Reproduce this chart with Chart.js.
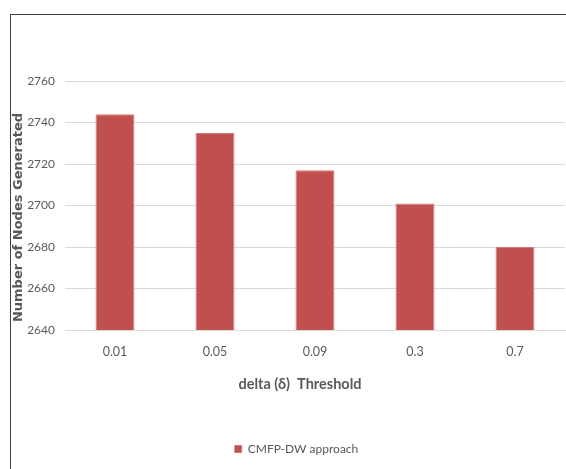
<!DOCTYPE html>
<html>
<head>
<meta charset="utf-8">
<script src="https://cdn.jsdelivr.net/npm/chart.js@4.4.1/dist/chart.umd.min.js"></script>
<style>
  html, body { margin: 0; padding: 0; background: #ffffff; }
  #wrap { position: relative; width: 566px; height: 469px; overflow: hidden; }
  #frame { position: absolute; left: 10px; top: 14px; width: 600px; height: 500px;
           border-left: 1px solid #404040; border-top: 1px solid #404040; }
  canvas { position: absolute; left: 0; top: 0; }
</style>
</head>
<body>
<div id="wrap">
  <div id="frame"></div>
  <canvas id="chart" width="566" height="469"></canvas>
</div>
<script>
// Threshold values on the x axis and the node counts for each
const thresholds = ['0.01', '0.05', '0.09', '0.3', '0.7'];
const nodesGenerated = [2744, 2735, 2717, 2701, 2680];
const seriesName = 'CMFP-DW approach';
const yTicks = [2640, 2660, 2680, 2700, 2720, 2740, 2760];
const xTitle = 'delta (\u03B4)  Threshold';
const yTitle = 'Number of Nodes Generated';

const fontFamily = 'Lato, "DejaVu Sans Condensed", sans-serif';
const textColor = '#595959';

// Axis titles drawn relative to the plot area (under the tick labels)
const axisTitles = {
  id: 'axisTitles',
  beforeDatasetsDraw(chart) {
    const { ctx, chartArea } = chart;
    ctx.save();
    ctx.fillStyle = textColor;
    ctx.textAlign = 'center';
    ctx.textBaseline = 'middle';
    ctx.font = 'bold 16px ' + fontFamily;
    ctx.fillText(xTitle, (chartArea.left + chartArea.right) / 2 - 15, chartArea.bottom + 54, 123);
    ctx.translate(19, (chartArea.top + chartArea.bottom) / 2 + 12);
    ctx.rotate(-Math.PI / 2);
    ctx.font = 'bold 13px "DejaVu Sans", sans-serif';
    ctx.fillText(yTitle, 0, 0);
    ctx.restore();
  }
};

new Chart(document.getElementById('chart'), {
  type: 'bar',
  data: {
    labels: thresholds,
    datasets: [{
      label: seriesName,
      data: nodesGenerated,
      backgroundColor: '#C0504D',
      borderColor: '#D27B78',
      borderWidth: 1,
      barPercentage: 0.39,
      categoryPercentage: 1.0
    }]
  },
  options: {
    responsive: false,
    animation: false,
    devicePixelRatio: 1,
    layout: { padding: { top: 81, left: 28, right: 1, bottom: 4 } },
    plugins: {
      legend: {
        position: 'bottom',
        labels: {
          boxWidth: 7, boxHeight: 7, padding: 10,
          color: textColor,
          font: { family: fontFamily, size: 12 }
        }
      },
      tooltip: { enabled: false }
    },
    scales: {
      x: {
        grid: { display: false, drawTicks: false },
        border: { color: '#D9D9D9', width: 1 },
        ticks: { color: textColor, font: { family: fontFamily, size: 12.5 }, padding: 14 },
        afterFit(scale) { scale.height = 103; }
      },
      y: {
        min: yTicks[0],
        max: yTicks[yTicks.length - 1],
        afterBuildTicks(scale) { scale.ticks = yTicks.map(v => ({ value: v })); },
        grid: { color: '#D9D9D9', drawTicks: false },
        border: { display: false },
        ticks: { color: textColor, font: { family: fontFamily, size: 12 }, padding: 10, callback: v => String(v) },
        afterFit(scale) { scale.width = 37; }
      }
    }
  },
  plugins: [axisTitles]
});
</script>
</body>
</html>
